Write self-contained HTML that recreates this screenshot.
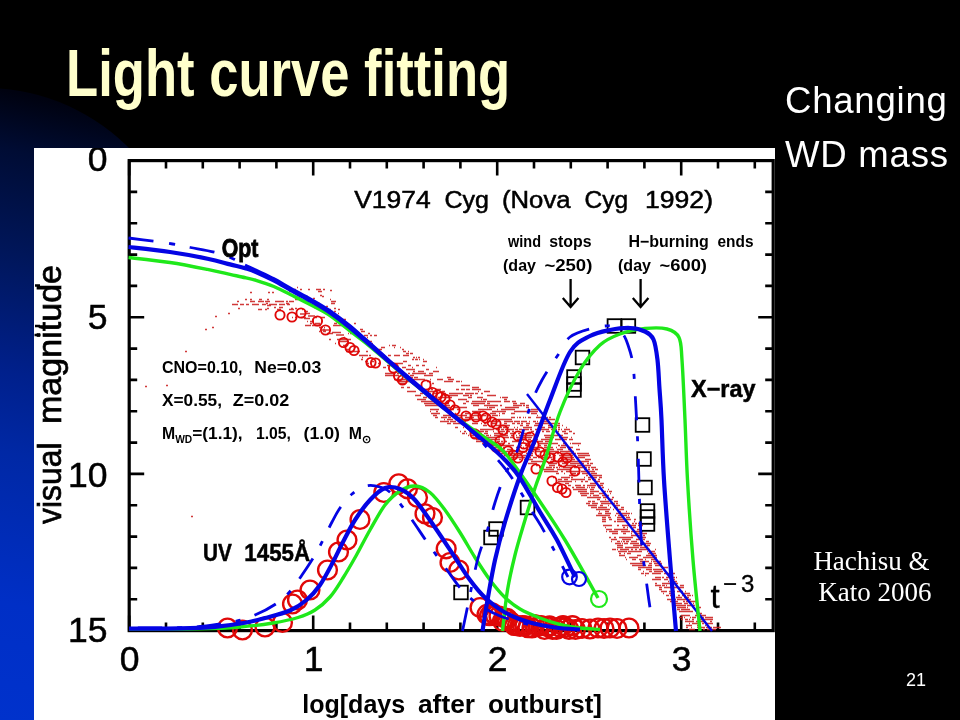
<!DOCTYPE html>
<html lang="en">
<head>
<meta charset="utf-8">
<title>Light curve fitting</title>
<style>
html,body{margin:0;padding:0;background:#000;}
body{width:960px;height:720px;overflow:hidden;position:relative;font-family:"Liberation Sans",sans-serif;}
#bg{position:absolute;left:0;top:0;width:960px;height:720px;}
h1{position:absolute;left:66px;top:35px;margin:0;font-family:"Liberation Sans",sans-serif;font-weight:bold;font-size:66.5px;line-height:76px;color:#ffffcc;white-space:nowrap;transform-origin:0 0;transform:scaleX(0.791);}
.note{position:absolute;left:785px;top:74px;margin:0;color:#fff;font-size:36.6px;letter-spacing:0.75px;line-height:54px;white-space:nowrap;}
.cite{position:absolute;left:799px;top:546px;width:145px;margin:0;color:#fff;font-family:"Liberation Serif",serif;font-size:27px;line-height:31.3px;text-align:center;white-space:nowrap;}
.num{position:absolute;left:906px;top:670px;margin:0;color:#fff;font-size:18px;line-height:20px;}
</style>
</head>
<body>
<svg id="bg" width="960" height="720" viewBox="0 0 960 720">
<defs>
<linearGradient id="lg" gradientUnits="userSpaceOnUse" x1="0" y1="89" x2="-130" y2="694">
<stop offset="0" stop-color="#000210"/>
<stop offset="0.093" stop-color="#000c34"/>
<stop offset="0.255" stop-color="#00165a"/>
<stop offset="0.445" stop-color="#00208c"/>
<stop offset="0.572" stop-color="#0028a5"/>
<stop offset="0.81" stop-color="#002fc6"/>
<stop offset="1" stop-color="#0032cc"/>
</linearGradient>
</defs>
<rect width="960" height="720" fill="#000"/>
<path d="M0 88.6A203 203 0 0 1 140 160V720H0Z" fill="url(#lg)"/>
<clipPath id="cp"><rect x="34" y="148" width="741" height="572"/></clipPath>
<rect x="34" y="148" width="741" height="572" fill="#fff"/>
<path d="M35 285.5h5M35 326h5M34.5 335h6" stroke="#000" stroke-width="2.4" fill="none"/>
<g stroke="#000" stroke-width="2.6" fill="none" stroke-linecap="butt">
<rect x="129.2" y="160.6" width="644.0" height="470.0" stroke-width="3.2"/>
<path d="M129.2 160.6v15M129.2 630.6v-15M166.0 160.6v8M166.0 630.6v-8M202.8 160.6v8M202.8 630.6v-8M239.6 160.6v8M239.6 630.6v-8M276.4 160.6v8M276.4 630.6v-8M313.2 160.6v15M313.2 630.6v-15M350.0 160.6v8M350.0 630.6v-8M386.8 160.6v8M386.8 630.6v-8M423.6 160.6v8M423.6 630.6v-8M460.4 160.6v8M460.4 630.6v-8M497.2 160.6v15M497.2 630.6v-15M534.0 160.6v8M534.0 630.6v-8M570.8 160.6v8M570.8 630.6v-8M607.6 160.6v8M607.6 630.6v-8M644.4 160.6v8M644.4 630.6v-8M681.2 160.6v15M681.2 630.6v-15M718.0 160.6v8M718.0 630.6v-8M754.8 160.6v8M754.8 630.6v-8M129.2 160.6h15M773.2 160.6h-15M129.2 191.9h8M773.2 191.9h-8M129.2 223.3h8M773.2 223.3h-8M129.2 254.6h8M773.2 254.6h-8M129.2 285.9h8M773.2 285.9h-8M129.2 317.3h15M773.2 317.3h-15M129.2 348.6h8M773.2 348.6h-8M129.2 379.9h8M773.2 379.9h-8M129.2 411.3h8M773.2 411.3h-8M129.2 442.6h8M773.2 442.6h-8M129.2 473.9h15M773.2 473.9h-15M129.2 505.3h8M773.2 505.3h-8M129.2 536.6h8M773.2 536.6h-8M129.2 567.9h8M773.2 567.9h-8M129.2 599.3h8M773.2 599.3h-8M129.2 630.6h15M773.2 630.6h-15"/>
</g>
<path d="M297 287.5h1M294 289.5h2M316 289.5h5M289 291.5h2M318 291.5h4M320 295.5h2M295 297.5h5M259 299.5h3M295 299.5h3M330 299.5h1M237 301.5h2M265 301.5h5M286 301.5h2M289 301.5h5M332 301.5h4M266 303.5h2M286 303.5h3M331 303.5h4M267 305.5h4M313 305.5h3M274 307.5h2M279 307.5h4M314 307.5h2M258 309.5h4M265 309.5h2M277 309.5h4M289 309.5h5M302 309.5h1M328 309.5h3M338 309.5h2M304 311.5h4M328 311.5h5M334 311.5h2M306 313.5h4M332 313.5h3M338 313.5h1M292 317.5h1M295 317.5h1M301 317.5h5M315 317.5h2M320 317.5h5M312 319.5h2M334 319.5h4M339 319.5h2M342 319.5h4M307 321.5h1M310 321.5h4M336 321.5h1M342 321.5h4M310 323.5h2M315 323.5h5M334 323.5h3M342 323.5h5M354 323.5h2M305 325.5h6M312 325.5h9M333 325.5h9M319 327.5h4M324 327.5h1M323 329.5h2M360 329.5h3M319 331.5h1M323 331.5h3M361 331.5h4M327 333.5h6M348 333.5h1M350 333.5h2M368 333.5h2M364 335.5h4M370 335.5h2M374 335.5h3M344 337.5h1M367 337.5h1M329 339.5h2M337 339.5h14M360 339.5h6M340 341.5h9M363 341.5h9M335 343.5h1M367 343.5h3M372 343.5h1M343 345.5h3M389 345.5h1M392 345.5h4M355 347.5h1M381 347.5h4M394 347.5h1M400 347.5h1M346 349.5h4M373 349.5h9M402 349.5h2M346 351.5h14M366 351.5h2M403 351.5h3M408 351.5h1M406 353.5h3M410 353.5h3M359 355.5h9M369 355.5h2M384 355.5h1M388 355.5h3M394 355.5h6M403 355.5h6M362 357.5h1M413 357.5h2M416 357.5h1M418 357.5h2M361 359.5h2M385 359.5h1M412 359.5h2M415 359.5h3M419 359.5h1M423 359.5h1M365 361.5h3M372 361.5h2M403 361.5h4M423 361.5h4M367 363.5h2M378 363.5h1M392 363.5h1M394 363.5h9M368 365.5h1M387 365.5h4M408 365.5h3M416 365.5h3M422 365.5h3M383 367.5h3M402 367.5h4M412 367.5h1M436 367.5h1M406 369.5h9M426 369.5h3M413 371.5h2M418 371.5h6M433 371.5h6M385 373.5h9M397 373.5h2M408 373.5h2M412 373.5h14M429 373.5h4M385 375.5h14M410 375.5h4M424 375.5h9M404 377.5h9M414 377.5h4M447 377.5h4M394 379.5h14M411 379.5h14M430 379.5h1M437 379.5h6M448 379.5h6M397 381.5h14M427 381.5h4M444 381.5h9M456 381.5h4M461 381.5h1M400 383.5h6M432 383.5h2M461 385.5h9M401 387.5h3M407 387.5h3M431 387.5h1M472 387.5h7M431 389.5h2M435 389.5h6M456 389.5h3M461 389.5h4M466 389.5h4M472 389.5h9M407 391.5h9M428 391.5h9M442 391.5h3M478 391.5h1M484 391.5h6M420 393.5h3M428 393.5h3M434 393.5h3M442 393.5h4M449 393.5h14M465 393.5h9M475 393.5h3M481 393.5h2M415 395.5h6M426 395.5h3M444 395.5h14M463 395.5h6M470 395.5h2M487 395.5h9M423 397.5h4M428 397.5h4M433 397.5h4M438 397.5h14M468 397.5h4M477 397.5h6M500 397.5h1M502 397.5h6M417 399.5h9M458 399.5h9M481 399.5h1M483 399.5h4M504 399.5h3M421 401.5h14M466 401.5h3M472 401.5h14M487 401.5h14M504 401.5h6M512 401.5h4M424 403.5h14M439 403.5h3M447 403.5h2M463 403.5h3M471 403.5h14M487 403.5h3M513 403.5h4M520 403.5h5M425 405.5h14M444 405.5h6M452 405.5h2M473 405.5h6M484 405.5h14M500 405.5h2M513 405.5h9M523 405.5h2M526 405.5h3M444 407.5h6M453 407.5h14M487 407.5h1M489 407.5h6M505 407.5h14M526 407.5h3M430 409.5h9M452 409.5h2M457 409.5h3M478 409.5h14M497 409.5h1M501 409.5h14M531 409.5h7M430 411.5h1M436 411.5h2M472 411.5h9M492 411.5h14M514 411.5h14M529 411.5h9M431 413.5h9M449 413.5h4M455 413.5h1M465 413.5h4M474 413.5h4M490 413.5h6M499 413.5h1M502 413.5h3M511 413.5h4M531 413.5h6M433 415.5h4M443 415.5h9M453 415.5h14M472 415.5h14M488 415.5h2M492 415.5h6M499 415.5h1M537 415.5h1M435 417.5h3M441 417.5h6M448 417.5h3M456 417.5h6M465 417.5h9M511 417.5h4M517 417.5h1M519 417.5h2M523 417.5h1M525 417.5h1M528 417.5h3M536 417.5h6M547 417.5h1M549 417.5h2M444 419.5h1M447 419.5h6M455 419.5h2M462 419.5h9M472 419.5h9M498 419.5h14M541 419.5h14M556 419.5h1M440 421.5h9M450 421.5h6M459 421.5h4M464 421.5h2M490 421.5h9M504 421.5h9M514 421.5h6M521 421.5h6M529 421.5h1M533 421.5h3M537 421.5h1M541 421.5h1M544 421.5h4M556 421.5h2M447 423.5h4M453 423.5h9M472 423.5h6M481 423.5h1M484 423.5h2M491 423.5h6M504 423.5h3M512 423.5h3M517 423.5h3M521 423.5h2M526 423.5h4M535 423.5h14M550 423.5h6M558 423.5h2M483 425.5h4M496 425.5h14M520 425.5h3M526 425.5h3M534 425.5h9M548 425.5h4M554 425.5h6M562 425.5h1M455 427.5h3M463 427.5h1M498 427.5h4M503 427.5h6M514 427.5h1M517 427.5h1M523 427.5h9M541 427.5h4M548 427.5h9M558 427.5h2M566 427.5h1M468 429.5h9M480 429.5h14M496 429.5h4M501 429.5h3M505 429.5h9M515 429.5h3M519 429.5h3M523 429.5h6M530 429.5h2M535 429.5h14M551 429.5h6M558 429.5h2M561 429.5h1M564 429.5h6M460 431.5h1M464 431.5h2M469 431.5h3M475 431.5h9M485 431.5h3M493 431.5h1M499 431.5h6M506 431.5h4M512 431.5h2M531 431.5h3M542 431.5h2M546 431.5h4M558 431.5h1M562 431.5h4M569 431.5h3M462 433.5h3M466 433.5h1M470 433.5h6M478 433.5h4M484 433.5h4M494 433.5h9M505 433.5h3M510 433.5h6M518 433.5h2M522 433.5h9M564 433.5h4M573 433.5h2M468 435.5h1M471 435.5h3M475 435.5h9M486 435.5h3M490 435.5h1M494 435.5h14M511 435.5h2M516 435.5h1M519 435.5h14M536 435.5h3M544 435.5h14M560 435.5h3M472 437.5h9M483 437.5h14M498 437.5h2M503 437.5h6M510 437.5h4M516 437.5h4M523 437.5h2M526 437.5h6M545 437.5h9M559 437.5h9M571 437.5h1M476 439.5h6M483 439.5h2M486 439.5h14M517 439.5h9M528 439.5h3M534 439.5h4M541 439.5h9M555 439.5h6M563 439.5h4M569 439.5h4M476 441.5h14M497 441.5h3M501 441.5h2M505 441.5h2M512 441.5h9M523 441.5h1M534 441.5h9M545 441.5h6M482 443.5h14M498 443.5h1M500 443.5h3M508 443.5h2M519 443.5h3M525 443.5h3M529 443.5h1M535 443.5h1M539 443.5h9M549 443.5h9M563 443.5h4M570 443.5h1M572 443.5h9M486 445.5h9M500 445.5h14M521 445.5h1M525 445.5h9M539 445.5h2M544 445.5h3M558 445.5h2M561 445.5h6M578 445.5h1M492 447.5h9M503 447.5h2M516 447.5h4M523 447.5h1M529 447.5h2M532 447.5h6M541 447.5h1M544 447.5h9M556 447.5h1M560 447.5h6M567 447.5h6M495 449.5h9M507 449.5h6M516 449.5h4M526 449.5h14M545 449.5h9M557 449.5h6M568 449.5h3M576 449.5h4M498 451.5h14M513 451.5h2M518 451.5h9M532 451.5h2M535 451.5h9M545 451.5h14M560 451.5h14M501 453.5h6M509 453.5h6M516 453.5h2M519 453.5h4M526 453.5h1M529 453.5h4M548 453.5h6M557 453.5h2M562 453.5h14M577 453.5h12M504 455.5h3M508 455.5h14M523 455.5h3M530 455.5h3M538 455.5h1M544 455.5h1M550 455.5h1M554 455.5h2M559 455.5h14M578 455.5h12M511 457.5h14M530 457.5h1M533 457.5h4M538 457.5h14M553 457.5h2M560 457.5h14M576 457.5h9M519 459.5h2M524 459.5h9M545 459.5h1M551 459.5h3M561 459.5h9M572 459.5h3M585 459.5h6M531 461.5h14M550 461.5h9M560 461.5h3M565 461.5h14M581 461.5h8M528 463.5h9M542 463.5h3M548 463.5h9M562 463.5h6M570 463.5h14M587 463.5h2M590 463.5h3M536 465.5h2M541 465.5h3M549 465.5h6M558 465.5h4M567 465.5h9M577 465.5h14M539 467.5h2M543 467.5h1M546 467.5h6M553 467.5h2M556 467.5h2M559 467.5h1M563 467.5h9M574 467.5h3M578 467.5h9M588 467.5h2M591 467.5h5M540 469.5h14M557 469.5h14M584 469.5h1M588 469.5h2M592 469.5h2M595 469.5h3M544 471.5h14M561 471.5h2M566 471.5h14M581 471.5h14M556 473.5h3M564 473.5h1M572 473.5h4M577 473.5h1M579 473.5h1M582 473.5h6M591 473.5h6M569 475.5h6M586 475.5h2M591 475.5h11M553 477.5h1M555 477.5h1M561 477.5h9M571 477.5h2M584 477.5h1M588 477.5h9M599 477.5h3M558 479.5h4M564 479.5h4M571 479.5h14M588 479.5h3M592 479.5h4M598 479.5h2M558 481.5h14M575 481.5h1M581 481.5h2M585 481.5h3M596 481.5h4M565 483.5h4M590 483.5h6M597 483.5h1M600 483.5h4M568 485.5h3M575 485.5h6M583 485.5h2M587 485.5h9M597 485.5h6M572 487.5h2M576 487.5h9M587 487.5h1M589 487.5h1M591 487.5h4M598 487.5h3M602 487.5h2M573 489.5h14M590 489.5h4M608 489.5h1M578 491.5h9M590 491.5h9M604 491.5h2M607 491.5h1M609 491.5h3M580 493.5h9M590 493.5h4M599 493.5h6M610 493.5h1M581 495.5h6M590 495.5h1M593 495.5h6M602 495.5h7M587 497.5h14M603 497.5h6M612 497.5h2M597 499.5h3M605 499.5h1M609 499.5h4M588 501.5h3M592 501.5h3M600 501.5h9M614 501.5h4M586 503.5h4M592 503.5h6M601 503.5h14M616 503.5h2M588 505.5h9M600 505.5h3M608 505.5h1M614 505.5h6M591 507.5h6M598 507.5h9M610 507.5h1M614 507.5h4M621 507.5h3M596 509.5h14M613 509.5h1M617 509.5h7M599 511.5h1M605 511.5h4M620 511.5h1M626 511.5h1M598 513.5h4M605 513.5h6M616 513.5h14M631 513.5h1M596 515.5h14M615 515.5h1M618 515.5h9M628 515.5h1M602 517.5h4M608 517.5h3M617 517.5h6M626 517.5h4M602 519.5h4M609 519.5h3M617 519.5h14M634 519.5h2M602 521.5h4M614 521.5h2M617 521.5h9M634 521.5h1M632 523.5h2M635 523.5h2M638 523.5h1M640 523.5h1M603 525.5h9M617 525.5h2M622 525.5h14M638 525.5h2M642 525.5h1M605 527.5h1M623 527.5h2M627 527.5h1M633 527.5h3M639 527.5h1M606 529.5h6M614 529.5h14M637 529.5h4M606 531.5h1M609 531.5h9M621 531.5h9M631 531.5h12M612 533.5h6M623 533.5h3M631 533.5h1M635 533.5h12M631 535.5h6M638 535.5h3M643 535.5h2M609 537.5h2M614 537.5h2M619 537.5h14M638 537.5h1M640 537.5h6M611 539.5h6M622 539.5h9M636 539.5h6M643 539.5h2M611 541.5h1M617 541.5h3M621 541.5h1M623 541.5h2M626 541.5h3M631 541.5h6M646 541.5h3M615 543.5h6M622 543.5h1M624 543.5h4M630 543.5h9M640 543.5h11M617 545.5h6M633 545.5h9M644 545.5h2M647 545.5h3M617 547.5h6M625 547.5h14M640 547.5h8M612 549.5h4M617 549.5h1M620 549.5h9M631 549.5h2M635 549.5h2M639 549.5h9M649 549.5h1M655 549.5h1M618 551.5h9M628 551.5h14M647 551.5h1M651 551.5h4M619 553.5h2M624 553.5h1M627 553.5h4M648 553.5h8M619 555.5h6M637 555.5h4M646 555.5h11M625 557.5h1M629 557.5h9M643 557.5h14M626 559.5h1M632 559.5h4M639 559.5h4M645 559.5h1M651 559.5h6M640 561.5h9M651 561.5h1M653 561.5h4M659 561.5h2M630 563.5h14M649 563.5h3M654 563.5h8M632 565.5h14M648 565.5h4M655 565.5h7M638 567.5h14M662 567.5h6M638 569.5h3M646 569.5h6M653 569.5h9M643 571.5h1M649 571.5h3M654 571.5h9M641 573.5h3M645 573.5h4M652 573.5h9M664 573.5h11M645 575.5h1M670 575.5h2M655 577.5h6M662 577.5h2M666 577.5h9M676 577.5h1M652 579.5h9M664 579.5h4M671 579.5h4M668 581.5h1M674 581.5h3M655 583.5h2M662 583.5h9M676 583.5h2M655 585.5h6M662 585.5h3M666 585.5h1M670 585.5h3M680 585.5h4M659 587.5h3M664 587.5h9M674 587.5h10M659 589.5h3M661 591.5h6M669 591.5h6M677 591.5h6M685 591.5h1M663 593.5h1M669 593.5h3M684 593.5h6M666 595.5h3M670 595.5h3M674 595.5h1M678 595.5h2M682 595.5h4M687 595.5h4M692 595.5h1M676 597.5h6M684 597.5h5M667 599.5h6M674 599.5h2M677 599.5h14M670 601.5h3M674 601.5h4M683 601.5h2M686 601.5h11M673 603.5h9M684 603.5h4M693 603.5h1M672 605.5h14M687 605.5h4M693 605.5h2M677 607.5h9M687 607.5h1M693 607.5h1M697 607.5h4M677 609.5h3M681 609.5h9M679 611.5h14M696 613.5h6M681 615.5h9M695 615.5h11M679 617.5h4M684 617.5h1M690 617.5h1M692 617.5h4M698 617.5h6M705 617.5h8M681 619.5h2M685 619.5h3M689 619.5h1M692 619.5h2M699 619.5h14M685 621.5h9M696 621.5h9M710 621.5h2M689 623.5h1M692 623.5h9M702 623.5h2M706 623.5h7M686 625.5h6M697 625.5h3M705 625.5h1M686 627.5h2M691 627.5h1M697 627.5h1M699 627.5h6M706 627.5h6M713 627.5h8M689 629.5h6M703 629.5h2M707 629.5h9M215 316.5h2M212 327.5h2M205 329.5h2M228 313.5h2M185 351.5h2M191 516.5h2M166 385.5h2M145 386.5h2M250 292.5h2M268 292.5h2M272 292.5h2M245 299.5h2M250 299.5h2M267 299.5h2M238 308.5h2M267 308.5h2M291 308.5h2M295 308.5h2M300 289.5h2M308 289.5h2M316 289.5h2M323 289.5h2M330 290.5h2M306 296.5h2M313 298.5h2M322 296.5h2M331 301.5h2M318 303.5h2M326 306.5h2M334 308.5h2M310 301.5h2M232 304.5h6M240 304.5h4M246 304.5h3M252 304.5h7M262 304.5h4M269 304.5h8M279 304.5h6M287 304.5h3M250 301.5h5M258 301.5h6M275 301.5h9M300 314.0h5M308 316.0h7M304 318.5h6M322 330.0h7M332 332.5h9M336 335.0h8" stroke="#cc2424" stroke-width="1.3" fill="none" opacity="0.9"/>
<path d="M527 394L712 631" stroke="#0404e4" stroke-width="2.4" fill="none"/>
<g stroke="#e00808" stroke-width="1.9" fill="none"><circle cx="280.0" cy="315.0" r="4.6"/><circle cx="292.0" cy="317.0" r="4.6"/><circle cx="301.0" cy="313.0" r="4.6"/><circle cx="317.5" cy="321.0" r="4.6"/><circle cx="325.5" cy="330.0" r="4.6"/><circle cx="343.5" cy="342.5" r="4.6"/><circle cx="350.0" cy="347.5" r="4.6"/><circle cx="354.0" cy="350.5" r="4.6"/><circle cx="371.0" cy="362.5" r="4.6"/><circle cx="375.5" cy="363.0" r="4.6"/><circle cx="393.5" cy="368.0" r="4.6"/><circle cx="398.5" cy="376.0" r="4.6"/><circle cx="402.5" cy="380.0" r="4.6"/><circle cx="426.0" cy="385.0" r="4.6"/><circle cx="432.5" cy="392.5" r="4.6"/><circle cx="437.5" cy="395.0" r="4.6"/><circle cx="441.0" cy="397.0" r="4.6"/><circle cx="445.0" cy="399.0" r="4.6"/><circle cx="450.0" cy="405.0" r="4.6"/><circle cx="455.0" cy="410.0" r="4.6"/><circle cx="466.0" cy="416.0" r="4.6"/><circle cx="476.0" cy="417.0" r="4.6"/><circle cx="483.0" cy="416.0" r="4.6"/><circle cx="486.0" cy="418.0" r="4.6"/><circle cx="492.0" cy="422.0" r="4.6"/><circle cx="496.0" cy="424.0" r="4.6"/><circle cx="503.0" cy="430.0" r="4.6"/><circle cx="475.0" cy="434.0" r="4.6"/><circle cx="500.0" cy="441.0" r="4.6"/><circle cx="518.0" cy="458.0" r="4.6"/><circle cx="523.0" cy="447.5" r="4.6"/><circle cx="530.0" cy="437.0" r="4.6"/><circle cx="536.0" cy="469.0" r="4.6"/><circle cx="518.0" cy="436.0" r="4.6"/><circle cx="524.0" cy="444.0" r="4.6"/><circle cx="534.0" cy="445.0" r="4.6"/><circle cx="540.0" cy="452.0" r="4.6"/><circle cx="558.0" cy="457.0" r="4.6"/><circle cx="563.0" cy="462.0" r="4.6"/><circle cx="567.0" cy="458.0" r="4.6"/><circle cx="575.0" cy="471.0" r="4.6"/><circle cx="545.0" cy="455.0" r="4.6"/><circle cx="550.0" cy="458.0" r="4.6"/><circle cx="552.0" cy="481.0" r="4.6"/><circle cx="557.5" cy="487.5" r="4.6"/><circle cx="562.0" cy="489.0" r="4.6"/><circle cx="566.0" cy="492.5" r="4.6"/><circle cx="496.0" cy="447.0" r="4.6"/><circle cx="508.0" cy="451.0" r="4.6"/><circle cx="513.0" cy="455.0" r="4.6"/></g>
<g stroke="#e00808" stroke-width="2.4" fill="none"><circle cx="227.5" cy="628.0" r="9.4"/><circle cx="242.5" cy="630.0" r="9.4"/><circle cx="265.0" cy="627.0" r="9.4"/><circle cx="282.5" cy="622.5" r="9.4"/><circle cx="292.5" cy="604.0" r="9.4"/><circle cx="297.5" cy="600.0" r="9.4"/><circle cx="310.0" cy="590.0" r="9.4"/><circle cx="327.5" cy="570.0" r="9.4"/><circle cx="338.5" cy="552.0" r="9.4"/><circle cx="347.0" cy="540.0" r="9.4"/><circle cx="360.0" cy="519.5" r="9.4"/><circle cx="383.8" cy="492.5" r="9.4"/><circle cx="398.8" cy="483.8" r="9.4"/><circle cx="407.5" cy="488.8" r="9.4"/><circle cx="417.5" cy="497.5" r="9.4"/><circle cx="425.0" cy="513.8" r="9.4"/><circle cx="432.5" cy="517.5" r="9.4"/><circle cx="446.2" cy="548.8" r="9.4"/><circle cx="450.0" cy="562.5" r="9.4"/><circle cx="458.8" cy="570.0" r="9.4"/><circle cx="480.0" cy="607.5" r="9.4"/><circle cx="487.0" cy="614.4" r="9.4"/><circle cx="489.5" cy="615.7" r="9.4"/><circle cx="492.0" cy="612.8" r="9.4"/><circle cx="495.5" cy="615.5" r="9.4"/><circle cx="499.0" cy="616.0" r="9.4"/><circle cx="502.5" cy="621.1" r="9.4"/><circle cx="505.0" cy="618.0" r="9.4"/><circle cx="507.5" cy="618.7" r="9.4"/><circle cx="510.5" cy="621.8" r="9.4"/><circle cx="514.5" cy="625.5" r="9.4"/><circle cx="517.5" cy="625.7" r="9.4"/><circle cx="520.0" cy="626.3" r="9.4"/><circle cx="522.5" cy="625.7" r="9.4"/><circle cx="525.0" cy="625.9" r="9.4"/><circle cx="528.0" cy="627.7" r="9.4"/><circle cx="532.0" cy="628.0" r="9.4"/><circle cx="534.5" cy="624.5" r="9.4"/><circle cx="538.0" cy="626.5" r="9.4"/><circle cx="541.0" cy="625.6" r="9.4"/><circle cx="544.5" cy="629.5" r="9.4"/><circle cx="547.0" cy="626.6" r="9.4"/><circle cx="549.5" cy="625.9" r="9.4"/><circle cx="552.5" cy="629.5" r="9.4"/><circle cx="556.5" cy="629.5" r="9.4"/><circle cx="560.0" cy="627.2" r="9.4"/><circle cx="563.0" cy="625.6" r="9.4"/><circle cx="565.5" cy="627.6" r="9.4"/><circle cx="569.0" cy="629.5" r="9.4"/><circle cx="572.5" cy="625.6" r="9.4"/><circle cx="575.5" cy="629.5" r="9.4"/><circle cx="582.0" cy="628.5" r="9.4"/><circle cx="590.0" cy="629.0" r="9.4"/><circle cx="598.0" cy="628.0" r="9.4"/><circle cx="604.0" cy="628.5" r="9.4"/><circle cx="610.0" cy="628.0" r="9.4"/><circle cx="617.0" cy="628.5" r="9.4"/><circle cx="629.0" cy="628.0" r="9.4"/></g>
<g stroke="#000" stroke-width="1.8" fill="none"><rect x="607.6" y="319.2" width="13.6" height="13.6"/><rect x="621.6" y="319.2" width="13.6" height="13.6"/><rect x="575.7" y="350.7" width="13.6" height="13.6"/><rect x="567.2" y="370.2" width="13.6" height="13.6"/><rect x="567.2" y="377.2" width="13.6" height="13.6"/><rect x="567.2" y="383.2" width="13.6" height="13.6"/><rect x="635.7" y="418.2" width="13.6" height="13.6"/><rect x="637.2" y="452.2" width="13.6" height="13.6"/><rect x="638.2" y="480.7" width="13.6" height="13.6"/><rect x="640.7" y="504.2" width="13.6" height="13.6"/><rect x="640.7" y="510.2" width="13.6" height="13.6"/><rect x="640.7" y="517.2" width="13.6" height="13.6"/><rect x="454.2" y="585.7" width="13.6" height="13.6"/><rect x="484.2" y="530.7" width="13.6" height="13.6"/><rect x="489.2" y="522.2" width="13.6" height="13.6"/><rect x="520.7" y="500.7" width="13.6" height="13.6"/></g>
<path d="M128.5 257.5C135.4 258.3 156.8 260.5 170.0 262.5C183.2 264.5 197.5 267.4 207.5 269.4C217.5 271.4 224.2 273.1 230.0 274.4C235.8 275.7 237.7 276.0 242.0 277.0C246.3 278.0 250.7 278.7 256.0 280.3C261.3 281.9 267.7 283.9 273.8 286.5C279.8 289.1 286.3 292.5 292.5 295.6C298.7 298.7 304.8 301.7 311.0 305.0C317.2 308.3 323.5 311.2 330.0 315.5C336.5 319.8 344.2 326.5 350.0 331.0C355.8 335.5 358.3 337.1 365.0 342.5C371.7 347.9 381.7 356.5 390.0 363.5C398.3 370.5 406.7 377.6 415.0 384.5C423.3 391.4 431.7 398.4 440.0 405.0C448.3 411.6 456.7 418.0 465.0 424.0C473.3 430.0 483.3 436.2 490.0 441.0C496.7 445.8 498.0 444.8 505.0 453.0C512.0 461.2 522.0 475.5 532.0 490.0C542.0 504.5 554.0 522.0 565.0 540.0C576.0 558.0 592.5 588.3 598.0 598.0" stroke="#1fe81a" stroke-width="3.4" fill="none" stroke-linejoin="round" stroke-linecap="butt"/>
<path d="M129.0 629.0C140.8 629.0 181.5 629.1 200.0 628.8C218.5 628.5 227.8 628.0 240.0 627.0C252.2 626.0 263.3 624.6 273.0 623.0C282.7 621.4 291.0 619.7 298.0 617.5C305.0 615.3 309.7 613.4 315.0 610.0C320.3 606.6 325.3 602.3 330.0 597.0C334.7 591.7 338.6 585.0 343.0 578.0C347.4 571.0 352.0 563.0 356.5 555.0C361.0 547.0 365.2 538.3 370.0 530.0C374.8 521.7 380.0 511.5 385.0 505.0C390.0 498.5 395.0 494.2 400.0 491.0C405.0 487.8 410.0 485.8 415.0 486.0C420.0 486.2 425.0 488.5 430.0 492.5C435.0 496.5 440.0 503.3 445.0 510.0C450.0 516.7 455.0 524.6 460.0 532.5C465.0 540.4 470.0 549.6 475.0 557.5C480.0 565.4 485.0 573.3 490.0 580.0C495.0 586.7 500.0 592.7 505.0 597.5C510.0 602.3 514.2 605.6 520.0 609.0C525.8 612.4 533.3 615.4 540.0 618.0C546.7 620.6 553.3 622.8 560.0 624.5C566.7 626.2 573.3 627.2 580.0 628.0C586.7 628.8 596.7 629.2 600.0 629.5" stroke="#1fe81a" stroke-width="3.4" fill="none" stroke-linejoin="round" stroke-linecap="butt"/>
<path d="M502.5 631.0C503.3 624.2 505.4 602.7 507.5 590.0C509.6 577.3 512.1 566.7 515.0 555.0C517.9 543.3 521.7 531.2 525.0 520.0C528.3 508.8 531.7 498.0 535.0 488.0C538.3 478.0 540.8 472.7 545.0 460.0C549.2 447.3 554.2 427.0 560.0 412.0C565.8 397.0 573.3 381.2 580.0 370.0C586.7 358.8 593.3 351.0 600.0 345.0C606.7 339.0 612.5 336.8 620.0 334.0C627.5 331.2 637.2 329.3 645.0 328.5C652.8 327.7 661.3 327.5 667.0 329.0C672.7 330.5 676.5 332.3 679.0 337.5C681.5 342.7 681.0 346.2 682.0 360.0C683.0 373.8 684.1 400.0 685.0 420.0C685.9 440.0 686.2 456.7 687.5 480.0C688.8 503.3 690.9 534.8 693.0 560.0C695.1 585.2 698.8 619.2 700.0 631.0" stroke="#1fe81a" stroke-width="3.4" fill="none" stroke-linejoin="round" stroke-linecap="butt"/>
<path d="M128.5 238.0C132.8 238.6 147.2 240.3 154.5 241.3C161.8 242.3 166.5 243.0 172.5 244.0C178.5 245.0 183.2 246.1 190.5 247.5C197.8 248.9 208.9 250.6 216.0 252.5C223.1 254.4 228.2 256.6 233.0 258.7C237.8 260.8 243.0 263.9 245.0 265.0" stroke="#0404e4" stroke-width="2.8" fill="none" stroke-dasharray="25 16 6 15" stroke-dashoffset="0" stroke-linejoin="round" stroke-linecap="butt"/>
<path d="M245.0 265.0C246.8 265.9 251.2 267.9 256.0 270.2C260.8 272.5 267.7 275.5 273.8 278.7C279.8 281.9 286.3 285.8 292.5 289.2C298.7 292.6 304.8 295.6 311.0 299.2C317.2 302.8 323.5 306.3 330.0 310.7C336.5 315.1 344.2 321.0 350.0 325.7C355.8 330.4 358.3 332.8 365.0 338.7C371.7 344.6 381.7 353.7 390.0 361.0C398.3 368.3 406.7 375.4 415.0 382.5C423.3 389.6 432.2 396.8 440.0 403.5C447.8 410.2 455.3 416.6 462.0 422.5C468.7 428.4 477.0 436.2 480.0 439.0" stroke="#0404e4" stroke-width="3.0" fill="none" stroke-linejoin="round" stroke-linecap="butt"/>
<path d="M480.0 440.0C483.0 443.3 492.7 453.7 498.0 460.0C503.3 466.3 506.2 469.2 512.0 478.0C517.8 486.8 527.5 503.8 533.0 513.0C538.5 522.2 539.2 522.3 545.0 533.0C550.8 543.7 564.2 569.7 568.0 577.0" stroke="#0404e4" stroke-width="2.8" fill="none" stroke-dasharray="24 16 5 17" stroke-dashoffset="35" stroke-linejoin="round" stroke-linecap="butt"/>
<path d="M129.0 628.0C138.3 627.9 173.2 627.8 185.0 627.5C196.8 627.2 191.7 627.5 200.0 626.5C208.3 625.5 225.8 623.4 235.0 621.5C244.2 619.6 248.3 617.8 255.0 615.0C261.7 612.2 269.2 608.4 275.0 604.5C280.8 600.6 285.5 596.4 290.0 591.5C294.5 586.6 297.8 581.1 302.0 575.0C306.2 568.9 311.3 561.2 315.0 555.0C318.7 548.8 321.2 543.5 324.0 538.0C326.8 532.5 329.3 527.0 332.0 522.0C334.7 517.0 336.7 512.7 340.0 508.0C343.3 503.3 347.7 497.7 352.0 494.0C356.3 490.3 361.3 487.2 366.0 486.0C370.7 484.8 375.7 485.7 380.0 487.0C384.3 488.3 387.0 489.0 392.0 494.0C397.0 499.0 404.2 509.0 410.0 517.0C415.8 525.0 420.8 533.2 427.0 542.0C433.2 550.8 441.2 562.0 447.0 570.0C452.8 578.0 456.8 584.3 462.0 590.0C467.2 595.7 471.7 599.7 478.0 604.0C484.3 608.3 491.3 612.5 500.0 616.0C508.7 619.5 525.0 623.5 530.0 625.0" stroke="#0404e4" stroke-width="2.8" fill="none" stroke-dasharray="24 15 5 15" stroke-dashoffset="50" stroke-linejoin="round" stroke-linecap="butt"/>
<path d="M462.5 631.0C463.3 627.0 465.0 618.8 467.5 607.0C470.0 595.2 474.2 572.8 477.5 560.0C480.8 547.2 484.6 539.6 487.5 530.0C490.4 520.4 492.1 511.7 495.0 502.5C497.9 493.3 501.2 483.8 505.0 475.0C508.8 466.2 513.3 461.3 517.5 450.0C521.7 438.7 525.9 418.7 530.0 407.0C534.1 395.3 537.0 389.2 542.0 380.0C547.0 370.8 555.3 359.2 560.0 352.0C564.7 344.8 565.0 340.8 570.0 337.0C575.0 333.2 583.3 330.8 590.0 329.0C596.7 327.2 604.7 325.3 610.0 326.0C615.3 326.7 619.0 329.8 622.0 333.0C625.0 336.2 626.2 339.7 628.0 345.0C629.8 350.3 631.8 355.8 633.0 365.0C634.2 374.2 634.7 385.8 635.5 400.0C636.3 414.2 637.1 427.5 638.0 450.0C638.9 472.5 639.4 511.7 641.0 535.0C642.6 558.3 645.7 575.8 647.5 590.0C649.3 604.2 651.2 615.0 652.0 620.0" stroke="#0404e4" stroke-width="2.8" fill="none" stroke-dasharray="24 16 5 17.5" stroke-dashoffset="0" stroke-linejoin="round" stroke-linecap="butt"/>
<path d="M128.5 247.0C135.4 247.8 156.8 250.1 170.0 252.0C183.2 253.9 197.5 256.6 207.5 258.7C217.5 260.8 223.8 262.8 230.0 264.4C236.2 266.0 240.7 266.9 245.0 268.2C249.3 269.5 251.2 269.9 256.0 272.0C260.8 274.1 267.7 277.3 273.8 280.5C279.8 283.7 286.3 287.6 292.5 291.0C298.7 294.4 304.8 297.4 311.0 301.0C317.2 304.6 323.5 308.1 330.0 312.5C336.5 316.9 344.2 322.8 350.0 327.5C355.8 332.2 358.3 334.7 365.0 340.5C371.7 346.3 381.7 355.2 390.0 362.5C398.3 369.8 406.7 376.9 415.0 384.0C423.3 391.1 431.7 398.2 440.0 405.0C448.3 411.8 456.7 418.2 465.0 425.0C473.3 431.8 483.3 440.2 490.0 446.0C496.7 451.8 500.0 454.7 505.0 460.0C510.0 465.3 514.2 469.3 520.0 478.0C525.8 486.7 533.8 501.7 540.0 512.0C546.2 522.3 551.2 529.2 557.0 540.0C562.8 550.8 572.0 570.8 575.0 577.0" stroke="#0404e4" stroke-width="4.2" fill="none" stroke-linejoin="round" stroke-linecap="butt"/>
<path d="M129.0 628.6C137.5 628.6 165.7 628.7 180.0 628.4C194.3 628.1 204.2 627.7 215.0 626.8C225.8 625.9 236.7 624.3 245.0 622.8C253.3 621.3 257.5 620.0 265.0 618.0C272.5 616.0 283.1 613.5 290.0 610.5C296.9 607.5 301.5 604.2 306.5 600.0C311.5 595.8 315.6 591.3 320.0 585.0C324.4 578.7 329.2 569.2 333.0 562.0C336.8 554.8 339.3 549.0 343.0 542.0C346.7 535.0 350.5 527.0 355.0 520.0C359.5 513.0 365.0 505.3 370.0 500.0C375.0 494.7 380.0 489.8 385.0 488.0C390.0 486.2 395.0 487.0 400.0 489.0C405.0 491.0 409.2 493.6 415.0 500.0C420.8 506.4 428.3 517.9 435.0 527.5C441.7 537.1 449.2 548.8 455.0 557.5C460.8 566.2 465.0 573.3 470.0 580.0C475.0 586.7 479.2 592.1 485.0 597.5C490.8 602.9 497.5 608.3 505.0 612.5C512.5 616.7 521.7 620.0 530.0 622.5C538.3 625.0 546.7 626.3 555.0 627.5C563.3 628.7 575.8 629.2 580.0 629.5" stroke="#0404e4" stroke-width="4.2" fill="none" stroke-linejoin="round" stroke-linecap="butt"/>
<path d="M482.5 631.0C483.3 625.8 485.4 611.8 487.5 600.0C489.6 588.2 492.1 573.0 495.0 560.0C497.9 547.0 500.8 536.0 505.0 522.0C509.2 508.0 515.0 489.7 520.0 476.0C525.0 462.3 530.0 452.7 535.0 440.0C540.0 427.3 544.2 414.7 550.0 400.0C555.8 385.3 563.3 362.7 570.0 352.0C576.7 341.3 583.3 339.7 590.0 336.0C596.7 332.3 603.3 331.3 610.0 330.0C616.7 328.7 624.2 327.8 630.0 328.0C635.8 328.2 641.1 329.6 645.0 331.5C648.9 333.4 651.4 334.8 653.5 339.5C655.6 344.2 656.5 351.8 657.5 360.0C658.5 368.2 658.8 379.0 659.5 389.0C660.2 399.0 660.8 404.8 661.5 420.0C662.2 435.2 662.6 456.7 664.0 480.0C665.4 503.3 668.0 534.8 670.0 560.0C672.0 585.2 675.0 619.2 676.0 631.0" stroke="#0404e4" stroke-width="4.2" fill="none" stroke-linejoin="round" stroke-linecap="butt"/>
<g fill="none" stroke-width="2.2"><circle cx="569.5" cy="577" r="7.3" stroke="#0404e4"/><circle cx="579" cy="579" r="7" stroke="#0404e4"/><circle cx="599" cy="599" r="8" stroke="#1fe81a"/></g>
<path d="M570.6 279V307M562.8 298L570.6 307L578.4 298" stroke="#000" stroke-width="2.3" fill="none"/>
<path d="M640.6 279V307M632.8 298L640.6 307L648.4 298" stroke="#000" stroke-width="2.3" fill="none"/>
<text x="107.6" y="171.3" font-family="'Liberation Sans', sans-serif" font-size="35.5" font-weight="normal" text-anchor="end" fill="#000" stroke="#000" stroke-width="0.5" clip-path="url(#cp)">0</text>
<text x="107.6" y="329.3" font-family="'Liberation Sans', sans-serif" font-size="35.5" font-weight="normal" text-anchor="end" fill="#000" stroke="#000" stroke-width="0.5">5</text>
<text x="107.6" y="487.3" font-family="'Liberation Sans', sans-serif" font-size="35.5" font-weight="normal" text-anchor="end" fill="#000" stroke="#000" stroke-width="0.5">10</text>
<text x="107.6" y="642.3" font-family="'Liberation Sans', sans-serif" font-size="35.5" font-weight="normal" text-anchor="end" fill="#000" stroke="#000" stroke-width="0.5">15</text>
<text x="129.5" y="671.3" font-family="'Liberation Sans', sans-serif" font-size="35.5" font-weight="normal" text-anchor="middle" fill="#000" stroke="#000" stroke-width="0.5">0</text>
<text x="313.5" y="671.3" font-family="'Liberation Sans', sans-serif" font-size="35.5" font-weight="normal" text-anchor="middle" fill="#000" stroke="#000" stroke-width="0.5">1</text>
<text x="497.5" y="671.3" font-family="'Liberation Sans', sans-serif" font-size="35.5" font-weight="normal" text-anchor="middle" fill="#000" stroke="#000" stroke-width="0.5">2</text>
<text x="681.5" y="671.3" font-family="'Liberation Sans', sans-serif" font-size="35.5" font-weight="normal" text-anchor="middle" fill="#000" stroke="#000" stroke-width="0.5">3</text>
<text y="712.7" font-family="'Liberation Sans', sans-serif" font-size="25.5" font-weight="bold" fill="#000" ><tspan x="302.2" textLength="103.0" lengthAdjust="spacingAndGlyphs">log[days</tspan><tspan x="418.0" textLength="57.0" lengthAdjust="spacingAndGlyphs">after</tspan><tspan x="488.0" textLength="114.0" lengthAdjust="spacingAndGlyphs">outburst]</tspan></text>
<g transform="translate(61.2 524) rotate(-90)">
<text y="0" font-family="'Liberation Sans', sans-serif" font-size="34" fill="#000" stroke="#000" stroke-width="0.7"><tspan x="0" textLength="81.5" lengthAdjust="spacingAndGlyphs">visual</tspan><tspan x="100" textLength="159" lengthAdjust="spacingAndGlyphs">magnitude</tspan></text>
</g>
<text y="208.3" font-family="'Liberation Sans', sans-serif" font-size="23.5" font-weight="normal" fill="#000" stroke="#000" stroke-width="0.5"><tspan x="354.2" textLength="76.5" lengthAdjust="spacingAndGlyphs">V1974</tspan><tspan x="444.5" textLength="44.5" lengthAdjust="spacingAndGlyphs">Cyg</tspan><tspan x="502.0" textLength="68.5" lengthAdjust="spacingAndGlyphs">(Nova</tspan><tspan x="584.5" textLength="43.5" lengthAdjust="spacingAndGlyphs">Cyg</tspan><tspan x="645.0" textLength="68.0" lengthAdjust="spacingAndGlyphs">1992)</tspan></text>
<text y="247.4" font-family="'Liberation Sans', sans-serif" font-size="16.5" font-weight="bold" fill="#000" ><tspan x="508.0" textLength="33.0" lengthAdjust="spacingAndGlyphs">wind</tspan><tspan x="549.2" textLength="42.3" lengthAdjust="spacingAndGlyphs">stops</tspan></text>
<text y="271.0" font-family="'Liberation Sans', sans-serif" font-size="16.5" font-weight="bold" fill="#000" ><tspan x="503.0" textLength="33.0" lengthAdjust="spacingAndGlyphs">(day</tspan><tspan x="544.4" textLength="48.0" lengthAdjust="spacingAndGlyphs">~250)</tspan></text>
<text y="247.4" font-family="'Liberation Sans', sans-serif" font-size="16.5" font-weight="bold" fill="#000" ><tspan x="628.4" textLength="80.5" lengthAdjust="spacingAndGlyphs">H−burning</tspan><tspan x="717.5" textLength="36.0" lengthAdjust="spacingAndGlyphs">ends</tspan></text>
<text y="271.0" font-family="'Liberation Sans', sans-serif" font-size="16.5" font-weight="bold" fill="#000" ><tspan x="618.0" textLength="33.0" lengthAdjust="spacingAndGlyphs">(day</tspan><tspan x="659.5" textLength="47.5" lengthAdjust="spacingAndGlyphs">~600)</tspan></text>
<text y="372.8" font-family="'Liberation Sans', sans-serif" font-size="15.8" font-weight="bold" fill="#000" ><tspan x="162.0" textLength="80.5" lengthAdjust="spacingAndGlyphs">CNO=0.10,</tspan><tspan x="254.2" textLength="67.0" lengthAdjust="spacingAndGlyphs">Ne=0.03</tspan></text>
<text y="406.0" font-family="'Liberation Sans', sans-serif" font-size="15.8" font-weight="bold" fill="#000" ><tspan x="162.0" textLength="60.0" lengthAdjust="spacingAndGlyphs">X=0.55,</tspan><tspan x="232.7" textLength="56.5" lengthAdjust="spacingAndGlyphs">Z=0.02</tspan></text>
<text y="438.7" font-family="'Liberation Sans', sans-serif" font-size="15.8" font-weight="bold" fill="#000"><tspan x="162">M</tspan><tspan font-size="10.5" dy="4.5" textLength="17" lengthAdjust="spacingAndGlyphs">WD</tspan><tspan dy="-4.5" textLength="50.5" lengthAdjust="spacingAndGlyphs">=(1.1),</tspan><tspan x="256" textLength="35" lengthAdjust="spacingAndGlyphs">1.05,</tspan><tspan x="303.5" textLength="36.5" lengthAdjust="spacingAndGlyphs">(1.0)</tspan><tspan x="348.7">M</tspan><tspan font-size="10.5" dy="4.5">⊙</tspan></text>
<text x="221.7" y="257.0" font-family="'Liberation Sans', sans-serif" font-size="26.0" font-weight="bold" text-anchor="start" fill="#000" textLength="36.6" lengthAdjust="spacingAndGlyphs" stroke="#000" stroke-width="0.9">Opt</text>
<text y="561.2" font-family="'Liberation Sans', sans-serif" font-size="24.5" font-weight="bold" fill="#000" stroke="#000" stroke-width="0.5"><tspan x="203.0" textLength="28.8" lengthAdjust="spacingAndGlyphs">UV</tspan><tspan x="244.3" textLength="65.8" lengthAdjust="spacingAndGlyphs">1455Å</tspan></text>
<text x="691.0" y="397.0" font-family="'Liberation Sans', sans-serif" font-size="23.5" font-weight="bold" text-anchor="start" fill="#000" textLength="64.5" lengthAdjust="spacingAndGlyphs" stroke="#000" stroke-width="0.5">X−ray</text>
<text font-family="'Liberation Sans', sans-serif" fill="#000" stroke="#000" stroke-width="0.3"><tspan x="710.5" y="607.5" font-size="33">t</tspan><tspan x="723" y="592" font-size="24">−</tspan><tspan x="741" y="592" font-size="24">3</tspan></text>
</svg>
<h1>Light curve fitting</h1>
<p class="note">Changing<br>WD mass</p>
<p class="cite">Hachisu &amp;<br>&nbsp;Kato 2006</p>
<p class="num">21</p>
</body>
</html>
